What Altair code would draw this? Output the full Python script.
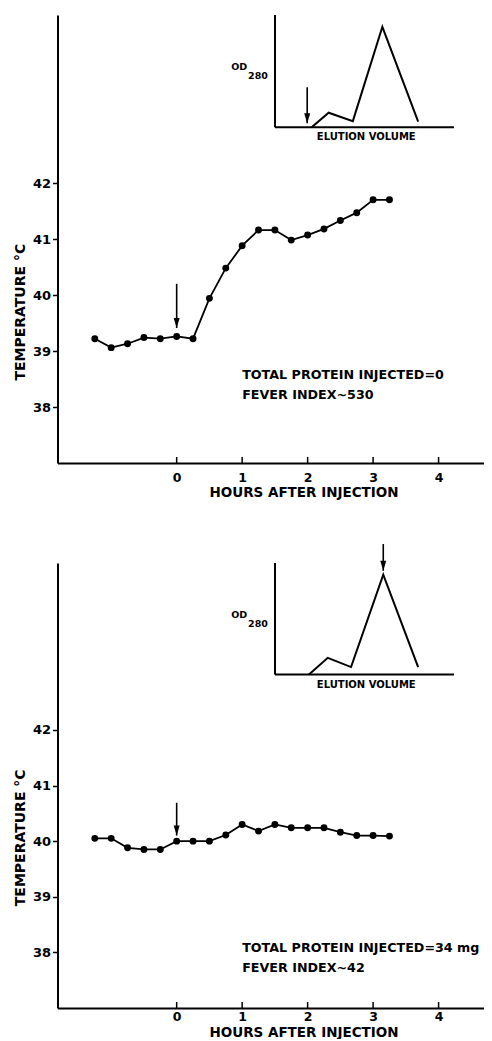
import altair as alt
import pandas as pd

# ---------------- data ----------------
hours = [-1.25, -1.0, -0.75, -0.5, -0.25, 0.0, 0.25, 0.5, 0.75, 1.0,
         1.25, 1.5, 1.75, 2.0, 2.25, 2.5, 2.75, 3.0, 3.25]
temp_top = [39.22, 39.06, 39.13, 39.24, 39.22, 39.26, 39.22, 39.94, 40.48, 40.88,
            41.16, 41.16, 40.98, 41.07, 41.18, 41.33, 41.47, 41.70, 41.70]
temp_bottom = [40.05, 40.05, 39.88, 39.85, 39.85, 40.0, 40.0, 40.0, 40.11, 40.30,
               40.18, 40.30, 40.24, 40.24, 40.24, 40.16, 40.10, 40.10, 40.09]

elution_top = [2.05, 3.0, 4.35, 6.0, 8.0]
od_top = [0.0, 0.13, 0.055, 0.895, 0.05]
elution_bottom = [1.9, 2.95, 4.25, 6.05, 8.0]
od_bottom = [0.0, 0.15, 0.067, 0.895, 0.067]

x_ticks = [0, 1, 2, 3, 4]
y_ticks = [38, 39, 40, 41, 42]

info_top = ["TOTAL PROTEIN INJECTED=0", "FEVER INDEX~530"]
info_bottom = ["TOTAL PROTEIN INJECTED=34 mg", "FEVER INDEX~42"]

# ---------------- layout constants ----------------
FONT = "DejaVu Sans"
W = 426
X_DOM = [-1.82, 4.686]
Y_DOM = [37, 45]
IX_DOM = [-12.15, 11.65]
IY_DOM = [-2.99, 1.0]
ARROW = "M0,0L-0.3,-1L0.3,-1Z"


def xs():
    return alt.Scale(domain=X_DOM, nice=False, zero=False)


def ys():
    return alt.Scale(domain=Y_DOM, nice=False, zero=False)


def ixs():
    return alt.Scale(domain=IX_DOM, nice=False, zero=False)


def iys():
    return alt.Scale(domain=IY_DOM, nice=False, zero=False)


def panel(temps, h, arrow_from, arrow_to, info, info_y, ytitle_y, xlab_pad, xtitle_y,
          ex, od, inset_arrow_x, inset_arrow_from, inset_arrow_to):
    x_axis = alt.Axis(values=x_ticks, title="HOURS AFTER INJECTION", ticks=False,
                      labelPadding=xlab_pad, domainWidth=2, domainColor="black", grid=False,
                      labelFont=FONT, labelFontSize=12.5, labelFontWeight="bold",
                      labelColor="black", titleFont=FONT, titleFontSize=13.5,
                      titleFontWeight="bold", titleColor="black", titleX=246,
                      titleY=xtitle_y, titleBaseline="middle", titleAlign="center")
    y_axis = alt.Axis(values=y_ticks, title="TEMPERATURE  °C", tickSize=5,
                      tickWidth=1.5, tickColor="black", labelPadding=2,
                      domainWidth=2, domainColor="black", grid=False,
                      labelFont=FONT, labelFontSize=13, labelFontWeight="bold",
                      labelColor="black", titleFont=FONT, titleFontSize=14,
                      titleFontWeight="bold", titleColor="black", titleX=-37.5,
                      titleY=ytitle_y, titleBaseline="middle", titleAlign="center",
                      titleAngle=270)

    df = pd.DataFrame({"hours": hours, "temp": temps})
    line = alt.Chart(df).mark_line(color="black", strokeWidth=1.8).encode(
        x=alt.X("hours:Q", scale=xs(), axis=x_axis),
        y=alt.Y("temp:Q", scale=ys(), axis=y_axis),
    )
    pts = alt.Chart(df).mark_circle(color="black", size=48, opacity=1).encode(
        x=alt.X("hours:Q", scale=xs(), axis=None),
        y=alt.Y("temp:Q", scale=ys(), axis=None),
    )
    adf = pd.DataFrame({"x": [0.0], "y1": [arrow_from], "y2": [arrow_to]})
    shaft = alt.Chart(adf).mark_rule(color="black", strokeWidth=1.6).encode(
        x=alt.X("x:Q", scale=xs(), axis=None),
        y=alt.Y("y1:Q", scale=ys(), axis=None),
        y2="y2:Q",
    )
    head = alt.Chart(adf).mark_point(shape=ARROW, filled=True, size=400,
                                     color="black", opacity=1, strokeWidth=0).encode(
        x=alt.X("x:Q", scale=xs(), axis=None),
        y=alt.Y("y2:Q", scale=ys(), axis=None),
    )
    tdf = pd.DataFrame({"x": [1.0, 1.0], "y": info_y, "t": info})
    txt = alt.Chart(tdf).mark_text(align="left", baseline="middle", font=FONT,
                                   fontSize=12.7, fontWeight="bold", color="black").encode(
        x=alt.X("x:Q", scale=xs(), axis=None),
        y=alt.Y("y:Q", scale=ys(), axis=None),
        text="t:N",
    )
    tick_df = pd.DataFrame({"v": x_ticks})
    xt = alt.Chart(tick_df).mark_rule(color="black", strokeWidth=1.5).encode(
        x=alt.X("v:Q", scale=xs(), axis=None),
        y=alt.value(h),
        y2=alt.value(h - 6),
    )

    # ---- inset ----
    ax_df = pd.DataFrame({"x1": [0.0, 0.0], "x2": [10.0, 0.0],
                          "y1": [0.0, 0.0], "y2": [0.0, 1.0]})
    iax = alt.Chart(ax_df).mark_rule(color="black", strokeWidth=2).encode(
        x=alt.X("x1:Q", scale=ixs(), axis=None), x2="x2:Q",
        y=alt.Y("y1:Q", scale=iys(), axis=None), y2="y2:Q",
    )
    idf = pd.DataFrame({"ev": ex, "od": od})
    iline = alt.Chart(idf).mark_line(color="black", strokeWidth=2).encode(
        x=alt.X("ev:Q", scale=ixs(), axis=None),
        y=alt.Y("od:Q", scale=iys(), axis=None),
    )
    iadf = pd.DataFrame({"x": [inset_arrow_x], "y1": [inset_arrow_from],
                         "y2": [inset_arrow_to]})
    ishaft = alt.Chart(iadf).mark_rule(color="black", strokeWidth=1.6).encode(
        x=alt.X("x:Q", scale=ixs(), axis=None),
        y=alt.Y("y1:Q", scale=iys(), axis=None), y2="y2:Q",
    )
    ihead = alt.Chart(iadf).mark_point(shape=ARROW, filled=True, size=400,
                                       color="black", opacity=1, strokeWidth=0).encode(
        x=alt.X("x:Q", scale=ixs(), axis=None),
        y=alt.Y("y2:Q", scale=iys(), axis=None),
    )
    ilab_df = pd.DataFrame({"x": [-2.0, -0.95, 5.1], "y": [0.535, 0.455, -0.09],
                            "t": ["OD", "280", "ELUTION VOLUME"],
                            "s": [9.5, 9.5, 10]})
    ilab = alt.Chart(ilab_df).mark_text(align="center", baseline="middle", font=FONT,
                                        fontWeight="bold", color="black").encode(
        x=alt.X("x:Q", scale=ixs(), axis=None),
        y=alt.Y("y:Q", scale=iys(), axis=None),
        text="t:N",
        size=alt.Size("s:Q", scale=None, legend=None),
    )

    return alt.layer(line, pts, shaft, head, txt, xt,
                     iax, iline, ishaft, ihead, ilab).resolve_scale(
        x="independent", y="independent").properties(width=W, height=h)


top = panel(temp_top, 448, 40.2, 39.41, info_top, [38.57, 38.21], 296.7, 8.5, 29,
            elution_top, od_top, 1.8, 0.356, 0.036)
bottom = panel(temp_bottom, 445, 40.69, 40.10, info_bottom, [38.08, 37.72], 274.3, 2.7, 24.5,
               elution_bottom, od_bottom, 6.05, 1.17, 0.93)

chart = alt.vconcat(top, bottom, spacing=100, bounds="flush").properties(
    padding={"left": 4.5, "top": 6, "right": 0, "bottom": 0},
    background="white",
).configure_view(stroke=None)

chart.save("out.html", embed_options={"renderer": "svg", "actions": False})
